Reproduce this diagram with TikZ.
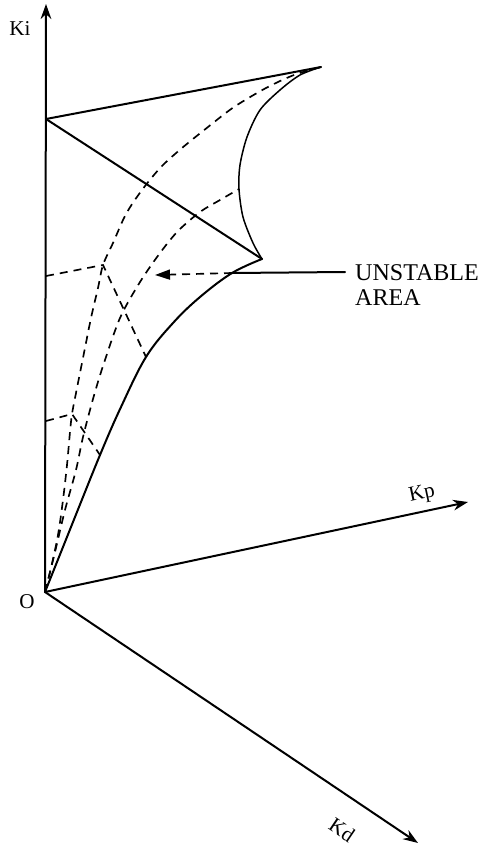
\documentclass[tikz,border=0pt]{standalone}
\usepackage{fontspec}
\setmainfont{Liberation Serif}
\usetikzlibrary{arrows.meta}
\begin{document}
\begin{tikzpicture}[x=0.3mm,y=-0.3mm,
  solidln/.style={line width=0.6mm, line join=round, line cap=round},
  thinln/.style={line width=0.45mm, line join=round, line cap=round},
  dashln/.style={line width=0.5mm, dash pattern=on 2.4mm off 1.8mm},
  axisarrow/.style={-{Stealth[length=4.5mm,width=3.2mm]}},
  lbl/.style={font=\fontsize{18}{20}\selectfont, inner sep=0pt},
  biglbl/.style={font=\fontsize{20.5}{22}\selectfont, inner sep=0pt, anchor=base west}]
\useasboundingbox (0,0) rectangle (482,852);
% coordinates
\coordinate (O) at (45,592);
\coordinate (KiEnd) at (46,4);
\coordinate (KpEnd) at (468,502);
\coordinate (KdEnd) at (418,843);
\coordinate (A) at (46,119);
\coordinate (B) at (321,67);
\coordinate (C) at (262,259);
\coordinate (L) at (232,273);
\coordinate (LE) at (345,272);
\coordinate (T) at (155,275);
\coordinate (P1) at (103,265);
\coordinate (P2) at (72,414);
\coordinate (H1) at (46,276);
\coordinate (H2) at (46,421);
\coordinate (E1) at (146,357);
\coordinate (E2) at (100,455);
\coordinate (M) at (239,189);
% axes
\draw[solidln,axisarrow] (O) -- (KiEnd);
\draw[solidln,axisarrow] (O) -- (KpEnd);
\draw[solidln,axisarrow] (O) -- (KdEnd);
% labels
\node[lbl, anchor=base] (ki) at (20,35) {Ki};
\node[lbl, anchor=base] (o) at (27,608) {O};
\node[lbl, rotate=12] (kp) at (422,494) {Kp};
\node[lbl, rotate=-34] (kd) at (342,830) {Kd};
\node[biglbl] (unst) at (355,280) {UNSTABLE};
\node[biglbl] (area) at (355,305) {AREA};
% solid surface edges
\draw[solidln] (A) -- (B);
\draw[solidln] (A) -- (C);
\draw[solidln] plot[smooth, tension=0.6] coordinates {(O) (71,527) (E2) (121,407) (E1) (173,323) (200,297) (L) (C)};
\draw[thinln] plot[smooth] coordinates {(B) (300,75) (280,90) (260,110) (247,137) (240,165) (M) (243,217) (253,243) (C)};
% leader
\draw[solidln] (L) -- (LE);
\draw[dashln, -{Triangle[length=4.5mm,width=3mm]}] (L) -- (T);
% dashed curves
\draw[dashln] plot[smooth] coordinates {(O) (51,568) (58,535) (63,500) (67,465) (70,432) (P2) (76,393) (83,358) (91,318) (98,288) (P1) (113,243) (126,214) (142,190) (161,167) (182,148) (208,127) (234,107) (266,88) (294,75) (B)};
\draw[dashln] plot[smooth] coordinates {(O) (55,552) (65,510) (76,470) (83,437) (93,399) (103,366) (120,318) (140,282) (160,253) (178,231) (200,212) (220,200) (M)};
% cross sections
\draw[dashln] (H1) -- (P1) -- (E1);
\draw[dashln] (H2) -- (P2) -- (E2);
\end{tikzpicture}
\end{document}
